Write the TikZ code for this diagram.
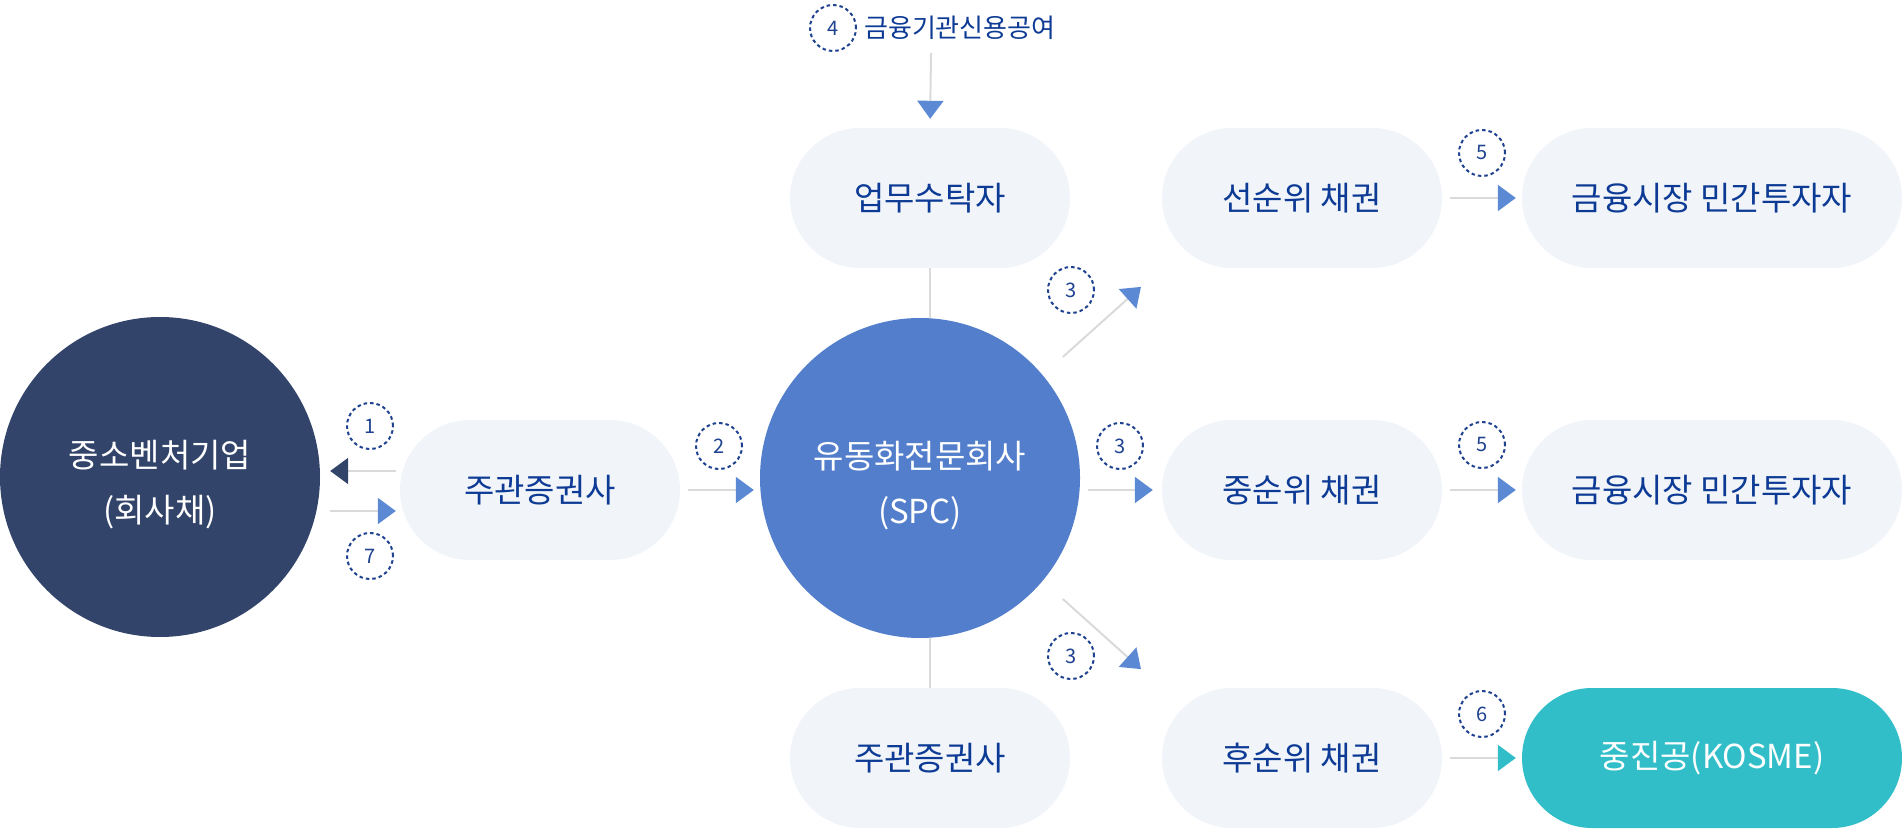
\documentclass[tikz,border=0pt]{standalone}
\usepackage{fontspec}
\setmainfont{Noto Sans CJK KR}
\usetikzlibrary{arrows.meta}
\definecolor{navy}{RGB}{50,68,105}
\definecolor{spcblue}{RGB}{82,126,203}
\definecolor{pillbg}{RGB}{241,245,250}
\definecolor{kosmeteal}{RGB}{49,190,200}
\definecolor{txtblue}{RGB}{12,58,148}
\definecolor{numblue}{RGB}{30,66,143}
\definecolor{tipblue}{RGB}{91,137,212}
\definecolor{linegray}{RGB}{218,218,218}
\tikzset{
  pill/.style={fill=pillbg,rounded corners=70pt,minimum width=280pt,minimum height=140pt,inner sep=0pt,text=txtblue,font=\fontsize{33}{38}\selectfont},
  widepill/.style={pill,minimum width=380pt},
  bigdisc/.style={circle,minimum size=320pt,inner sep=0pt},
  disctext/.style={text=white,align=center,font=\fontsize{33}{55}\selectfont,yshift=-8pt},
  numdot/.style={circle,draw=numblue,line width=2pt,dash pattern=on 3.5pt off 3pt,minimum size=46pt,inner sep=0pt,text=numblue,font=\fontsize{20}{20}\selectfont},
  link/.style={draw=linegray,line width=2pt},
  arr/.style={link,-{Triangle[length=18pt,width=26pt,color=#1,fill=#1]}},
  arr/.default=tipblue
}
\begin{document}
\begin{tikzpicture}[x=1pt,y=1pt]
\useasboundingbox (0,0) rectangle (1902,828);
\node[bigdisc,fill=navy,label={[disctext]center:중소벤처기업\\(회사채)}] (smv) at(160,351){};
\node[pill] (lead1) at(540,338){주관증권사};
\node[bigdisc,fill=spcblue,label={[disctext]center:유동화전문회사\\(SPC)}] (spc) at(920,350){};
\node[pill] (trust) at(930,630){업무수탁자};
\node[pill] (lead2) at(930,70){주관증권사};
\node[pill] (senior) at(1302,630){선순위 채권};
\node[pill] (mezz) at(1302,338){중순위 채권};
\node[pill] (junior) at(1302,70){후순위 채권};
\node[widepill] (inv1) at(1712,630){금융시장 민간투자자};
\node[widepill] (inv2) at(1712,338){금융시장 민간투자자};
\node[widepill,fill=kosmeteal,text=white] (kosme) at(1712,70){중진공(KOSME)};
\node[numdot] (n4) at(833,800){4};
\node[anchor=west,inner sep=0pt,text=txtblue,font=\fontsize{26}{26}\selectfont] (credit) at(864,800){금융기관신용공여};
\coordinate (src4) at(931,775);
\node[numdot] (n1) at(370,402){1};
\node[numdot] (n7) at(370,272){7};
\node[numdot] (n2) at(719,382){2};
\node[numdot] (n3a) at(1071,538){3};
\node[numdot] (n3b) at(1120,382){3};
\node[numdot] (n3c) at(1071,172){3};
\node[numdot] (n5a) at(1482,675){5};
\node[numdot] (n5b) at(1482,383){5};
\node[numdot] (n6) at(1482,114){6};
\draw[arr=navy,shorten <=4pt,shorten >=10pt] ([yshift=19pt]lead1.west) -- ([yshift=19pt]lead1.west -| smv.east);
\draw[arr,shorten <=10pt,shorten >=4pt] ([yshift=-21pt]lead1.west -| smv.east) -- ([yshift=-21pt]lead1.west);
\draw[arr,shorten <=8pt,shorten >=6pt] (lead1.east) -- (lead1.east -| spc.west);
\draw[arr,shorten >=9pt] (src4) -- (trust.north);
\draw[link] (trust.south) -- (trust.south |- spc.north);
\draw[link] (lead2.north) -- (lead2.north |- spc.south);
\draw[arr,shorten <=27pt,shorten >=28pt] (spc.40) -- (senior.south west);
\draw[arr,shorten <=8pt,shorten >=9pt] (mezz.west -| spc.east) -- (mezz.west);
\draw[arr,shorten <=27pt,shorten >=28pt] (spc.-40) -- (junior.north west);
\draw[arr,shorten <=8pt,shorten >=6pt] (senior.east) -- (inv1.west);
\draw[arr,shorten <=8pt,shorten >=6pt] (mezz.east) -- (inv2.west);
\draw[arr=kosmeteal,shorten <=8pt,shorten >=6pt] (junior.east) -- (kosme.west);
\end{tikzpicture}
\end{document}
